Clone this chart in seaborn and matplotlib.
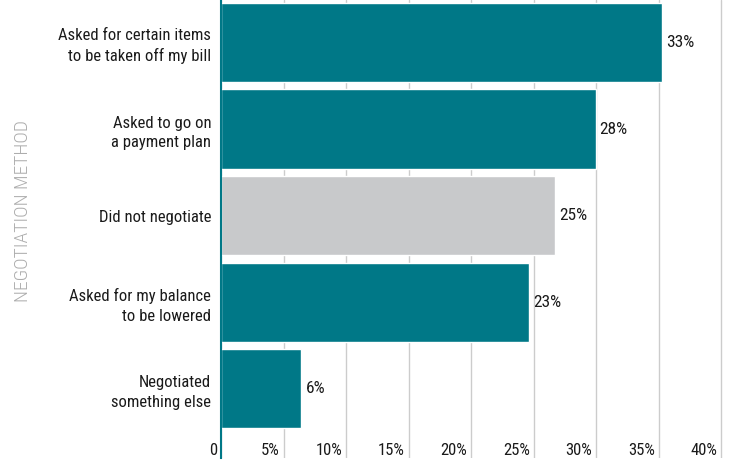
import matplotlib
matplotlib.use("Agg")
import matplotlib.pyplot as plt
import matplotlib.transforms as mtransforms
from matplotlib import font_manager
import seaborn as sns
import pandas as pd

methods = [
    "Asked for certain items\nto be taken off my bill",
    "Asked to go on\na payment plan",
    "Did not negotiate",
    "Asked for my balance\nto be lowered",
    "Negotiated\nsomething else",
]
values = [33, 28, 25, 23, 6]
bar_colors = ["#007887", "#007887", "#C8C9CB", "#007887", "#007887"]
tick_values = [0, 5, 10, 15, 20, 25, 30, 35, 40]
tick_labels = ["0", "5%", "10%", "15%", "20%", "25%", "30%", "35%", "40%"]
axis_title = "NEGOTIATION METHOD"

sns.set_theme(style="white")
avail = {f.name for f in font_manager.fontManager.ttflist}
cands = ["Roboto Condensed", "Liberation Sans Narrow", "DejaVu Sans Condensed", "Liberation Sans", "DejaVu Sans"]
fam = [c for c in cands if c in avail]
plt.rcParams["font.family"] = fam

df = pd.DataFrame({"method": methods, "value": values})

fig = plt.figure(figsize=(7.52, 4.66), dpi=100)
ax = fig.add_axes([221 / 752, 1 - 458 / 466, 1 - 221 / 752, 458 / 466])

sns.barplot(data=df, x="value", y="method", hue="method", palette=bar_colors,
            orient="h", width=0.913, legend=False, ax=ax, saturation=1, zorder=2)

# axis scale quirk of the original: gridlines spaced slightly tighter than bar scale
tick_scale = 0.935
ax.set_xlim(0, 39.7)
ax.set_ylim(4.8, -0.49)
ax.set_xticks([t * tick_scale for t in tick_values])
ax.set_xticklabels([])
ax.tick_params(axis="x", length=0)
ax.grid(axis="x", color="#CCCCCC", linewidth=1.0, zorder=0)
ax.grid(axis="y", visible=False)
ax.set_axisbelow(True)

for s in ["top", "right", "bottom"]:
    ax.spines[s].set_visible(False)
ax.spines["left"].set_color("#007887")
ax.spines["left"].set_linewidth(1.5)
ax.spines["left"].set_zorder(3)

ax.set_yticks(range(len(methods)))
ax.set_yticklabels(methods, fontsize=12, color="#1a1a1a", linespacing=1.38)
ax.tick_params(axis="y", length=0, pad=7)
ax.set_xlabel("")
ax.set_ylabel("")

# x tick labels inside the axes, right-aligned just left of each gridline
blend = mtransforms.blended_transform_factory(ax.transData, ax.transAxes)
off = mtransforms.ScaledTranslation(-4 / 100, 0, fig.dpi_scale_trans)
for t, lab in zip(tick_values, tick_labels):
    ax.text(t * tick_scale, 0.016, lab, transform=blend + off, ha="right", va="center",
            fontsize=12, color="#1a1a1a")

for cont in ax.containers:
    ax.bar_label(cont, fmt="%d%%", padding=3, fontsize=12.5, color="#1a1a1a")

fig.text(23.5 / 752, 1 - 211 / 466, axis_title, rotation=90, ha="center", va="center",
         fontsize=14, fontweight="light", color="#ADADAD")

fig.savefig("out.png", dpi=100)
